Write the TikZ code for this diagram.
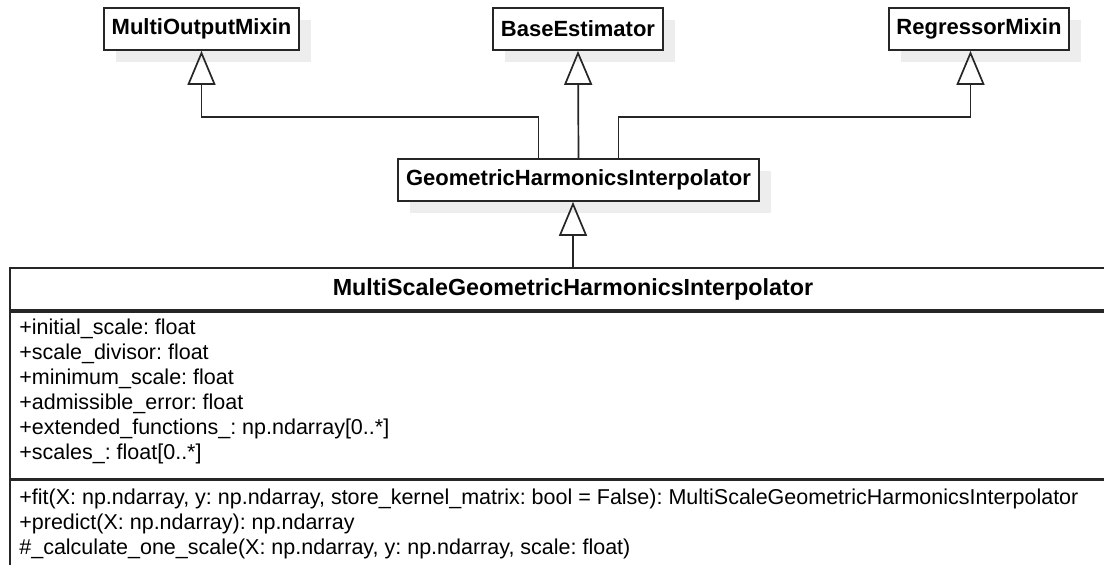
\documentclass[tikz,border=0pt]{standalone}
\usepackage{fontspec}
\setmainfont{Liberation Sans}
\usepackage{tikz}
\usetikzlibrary{positioning,arrows.meta,shadows}

\begin{document}
\frenchspacing
\begin{tikzpicture}[x=1pt, y=-1pt,
                    font=\fontsize{21.5}{25}\selectfont,
                    classbox/.style={draw=black!85, line width=1.7pt, fill=white,
                                     minimum height=42pt, inner xsep=0pt,
                                     font=\fontsize{22}{25}\selectfont\bfseries,
                                     drop shadow={shadow xshift=12pt, shadow yshift=-12pt,
                                                  fill=black!7, opacity=1}},
                    compart/.style={draw=black!85, line width=1.7pt, minimum width=1126pt,
                                    inner sep=0pt},
                    members/.style={align=left, inner sep=0pt, anchor=base west},
                    inherits/.style={draw=black!85, line width=1.7pt,
                                     -{Triangle[open, length=34pt, width=28pt]}}]
  \useasboundingbox (0,0) rectangle (1104,565);
  \clip (0,0) rectangle (1104,565);
  \node[classbox, minimum width=195pt] (moMixin) at (201.5,29) {MultiOutputMixin};
  \node[classbox, minimum width=170pt] (baseEst) at (578,29) {BaseEstimator};
  \node[classbox, minimum width=180pt] (regMixin) at (979,29) {RegressorMixin};
  \node[classbox, minimum width=361pt] (ghInterp) at (578.5,180) {GeometricHarmonicsInterpolator};
  \node[compart, minimum height=42pt, font=\fontsize{23.3}{25}\selectfont\bfseries]
    (msghInterp) at (573,289) {MultiScaleGeometricHarmonicsInterpolator};
  \node[compart, minimum height=167pt, below=0pt of msghInterp] (attrs) {};
  \node[compart, minimum height=86pt, below=0pt of attrs] (meths) {};
  \node[members] (attrList) at ([xshift=10pt, yshift=-149pt]attrs.north west)
    {+initial\_scale: float\\
     +scale\_divisor: float\\
     +minimum\_scale: float\\
     +admissible\_error: float\\
     +extended\_functions\_: np.ndarray[0..*]\\
     +scales\_: float[0..*]};
  \node[members] (methList) at ([xshift=10pt, yshift=-75pt]meths.north west)
    {+fit(X: np.ndarray, y: np.ndarray, store\_kernel\_matrix: bool = False): MultiScaleGeometricHarmonicsInterpolator\\
     +predict(X: np.ndarray): np.ndarray\\
     \#\_calculate\_one\_scale(X: np.ndarray, y: np.ndarray, scale: float)};
  \draw[inherits] ([xshift=-40pt]ghInterp.north) -- ++(0,-41) -| (moMixin.south);
  \draw[inherits] (ghInterp.north) -- (baseEst.south);
  \draw[inherits] ([xshift=40pt]ghInterp.north) -- ++(0,-41) -| ([xshift=-8.5pt]regMixin.south);
  \draw[inherits] (msghInterp.north) -- (msghInterp.north |- ghInterp.south);
\end{tikzpicture}
\end{document}
